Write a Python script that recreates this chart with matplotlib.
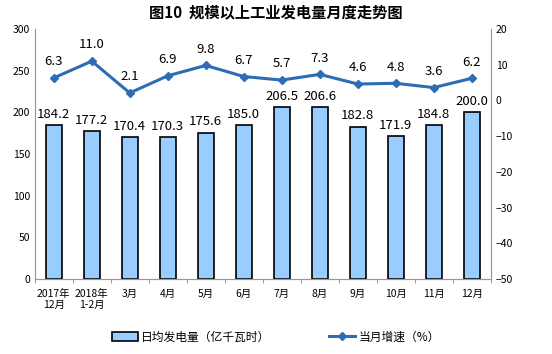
import matplotlib
matplotlib.use("Agg")
import matplotlib.pyplot as plt
import numpy as np

plt.rcParams['font.family'] = ['Noto Sans CJK SC', 'DejaVu Sans']

months = ['2017年\n12月', '2018年\n1-2月', '3月', '4月', '5月', '6月', '7月', '8月', '9月', '10月', '11月', '12月']
daily_output = [184.2, 177.2, 170.4, 170.3, 175.6, 185.0, 206.5, 206.6, 182.8, 171.9, 184.8, 200.0]
growth = [6.3, 11.0, 2.1, 6.9, 9.8, 6.7, 5.7, 7.3, 4.6, 4.8, 3.6, 6.2]

fig = plt.figure(figsize=(5.52, 3.54), dpi=100)
ax = fig.add_axes([0.063, 0.212, 0.826, 0.706])
ax2 = ax.twinx()

x = np.arange(len(months))
bars = ax.bar(x, daily_output, width=0.42, color='#99CCFF', edgecolor='black', linewidth=1.2,
              label='日均发电量（亿千瓦时）', zorder=2)
for xi, v in zip(x, daily_output):
    ax.text(xi, v + 5, f'{v:.1f}', ha='center', va='bottom', fontsize=9.5)

ax.set_ylim(0, 300)
ax.set_yticks(range(0, 301, 50))
ax.set_xlim(-0.5, len(months) - 0.5)
ax.set_xticks(x)
ax.set_xticklabels(months, fontsize=7.5)
ax.set_xticks(np.arange(-0.5, len(months), 1), minor=True)
ax.tick_params(axis='x', which='major', length=0, pad=7)
ax.tick_params(axis='x', which='minor', length=3, color='#888888')
ax.tick_params(axis='y', labelsize=7.5, length=0)

line, = ax2.plot(x, growth, color='#2E6DB4', linewidth=2.2, marker='D', markersize=4,
                 label='当月增速（%）', zorder=3)
for xi, v in zip(x, growth):
    ax2.annotate(f'{v:.1f}', (xi, v), xytext=(0, 7), textcoords='offset points',
                 ha='center', va='bottom', fontsize=9.5)
ax2.set_ylim(-50, 20)
ax2.set_yticks(range(-50, 21, 10))
ax2.tick_params(axis='y', labelsize=7.5, length=0)

for a in (ax, ax2):
    a.spines['top'].set_visible(False)
    for s in ('left', 'right', 'bottom'):
        a.spines[s].set_color('#999999')

fig.text(0.5, 0.962, '图10  规模以上工业发电量月度走势图', ha='center', va='center',
         fontsize=11, fontweight='bold')

fig.legend([bars, line], ['日均发电量（亿千瓦时）', '当月增速（%）'], loc='center',
           bbox_to_anchor=(0.5, 0.048), ncol=2, frameon=False, fontsize=8.5,
           columnspacing=5, handlelength=2.2, handletextpad=0.3)

fig.savefig('out.png', dpi=100)
